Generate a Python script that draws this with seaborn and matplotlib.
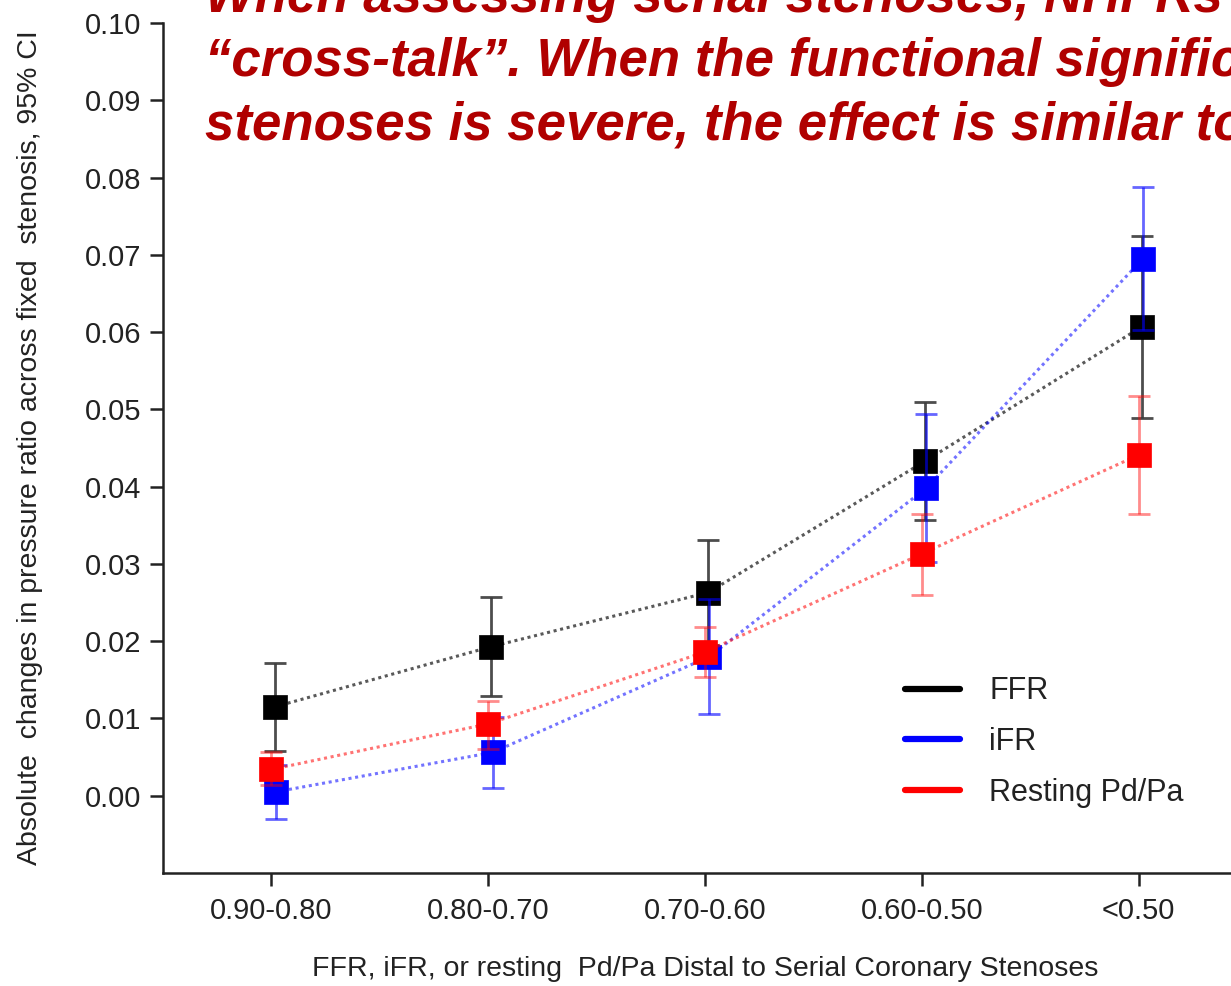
import numpy as np
import pandas as pd
import matplotlib
matplotlib.use("Agg")
import matplotlib.pyplot as plt
from matplotlib.lines import Line2D
import seaborn as sns

# Pressure-ratio bins distal to the serial stenoses
categories = ["0.90-0.80", "0.80-0.70", "0.70-0.60", "0.60-0.50", "<0.50"]

# Mean absolute change across the fixed stenosis with 95% CI bounds
ffr_mean = [0.0115, 0.0193, 0.0263, 0.0433, 0.0607]
ffr_low = [0.0058, 0.0129, 0.0195, 0.0357, 0.0489]
ffr_high = [0.0172, 0.0257, 0.0331, 0.0510, 0.0724]

ifr_mean = [0.0005, 0.0056, 0.0180, 0.0398, 0.0695]
ifr_low = [-0.0030, 0.0010, 0.0106, 0.0303, 0.0603]
ifr_high = [0.0040, 0.0102, 0.0254, 0.0494, 0.0788]

pdpa_mean = [0.0034, 0.0093, 0.0186, 0.0313, 0.0441]
pdpa_low = [0.0014, 0.0061, 0.0154, 0.0260, 0.0364]
pdpa_high = [0.0056, 0.0123, 0.0219, 0.0364, 0.0517]

series_names = ["FFR", "iFR", "Resting Pd/Pa"]

rows = []
for name, m, lo, hi in [
    ("FFR", ffr_mean, ffr_low, ffr_high),
    ("iFR", ifr_mean, ifr_low, ifr_high),
    ("Resting Pd/Pa", pdpa_mean, pdpa_low, pdpa_high),
]:
    for i, cat in enumerate(categories):
        rows.append({"series": name, "bin": cat, "idx": i,
                     "mean": m[i], "low": lo[i], "high": hi[i]})
df = pd.DataFrame(rows)

sns.set_theme(style="ticks")
plt.rcParams["font.family"] = ["Liberation Sans", "DejaVu Sans"]

W, H = 1231, 986
fig = plt.figure(figsize=(W / 100, H / 100), dpi=100)
fig.patch.set_facecolor("white")
ax = fig.add_axes([163 / W, 113 / H, 1084 / W, 850 / H])
ax.set_facecolor("white")

styles = {
    "FFR": dict(color="#000000", line_alpha=0.65, err_color="#3a3a3a", err_alpha=0.9,
                shift=0.015, z=3),
    "iFR": dict(color="#0000ff", line_alpha=0.55, err_color="#0000ff", err_alpha=0.6,
                shift=0.02, z=5),
    "Resting Pd/Pa": dict(color="#ff0000", line_alpha=0.55, err_color="#ff0000", err_alpha=0.45,
                          shift=0.0, z=7),
}

for name in series_names:
    st = styles[name]
    sub = df[df["series"] == name].copy()
    sub["x"] = sub["idx"] + st["shift"]
    # dotted connecting line
    sns.lineplot(data=sub, x="x", y="mean", ax=ax, color=st["color"],
                 linestyle=(0, (1, 1.2)), linewidth=2.2, alpha=st["line_alpha"],
                 errorbar=None, legend=False, zorder=st["z"] - 1.5, sort=True)
    # 95% CI whiskers
    ax.errorbar(sub["x"], sub["mean"],
                yerr=[sub["mean"] - sub["low"], sub["high"] - sub["mean"]],
                fmt="none", ecolor=st["err_color"], alpha=st["err_alpha"],
                elinewidth=2.0, capsize=8, capthick=2.0, zorder=st["z"] - 1)
    # square markers
    sns.scatterplot(data=sub, x="x", y="mean", ax=ax, marker="s", s=290,
                    color=st["color"], edgecolor=st["color"], linewidth=0.5,
                    legend=False, zorder=st["z"])

ax.set_xlim(-0.5, 4.5)
ax.set_ylim(-0.01, 0.10)
ax.set_xticks(range(len(categories)))
ax.set_xticklabels(categories)
ax.set_yticks(np.arange(0, 0.1001, 0.01))
ax.set_yticklabels([f"{v:.2f}" for v in np.arange(0, 0.1001, 0.01)])

for side in ["top", "right"]:
    ax.spines[side].set_visible(False)
for side in ["left", "bottom"]:
    ax.spines[side].set_linewidth(1.8)
    ax.spines[side].set_color("#222222")

ax.tick_params(axis="both", direction="out", length=9.5, width=1.8, color="#222222",
               labelsize=21, labelcolor="#222222")
ax.tick_params(axis="x", pad=8)
ax.tick_params(axis="y", pad=6)

ax.set_xlabel("FFR, iFR, or resting  Pd/Pa Distal to Serial Coronary Stenoses",
              fontsize=20.5, color="#222222", labelpad=22)
ax.set_ylabel("Absolute  changes in pressure ratio across fixed  stenosis, 95% CI",
              fontsize=20.5, color="#222222", labelpad=30)

handles = [Line2D([0], [0], color=styles[n]["color"], lw=4.5) for n in series_names]
fig.legend(handles, series_names, loc="center left",
           bbox_to_anchor=(905 / W, 1 - 742 / H), bbox_transform=fig.transFigure,
           frameon=False, fontsize=22, handlelength=1.8, handletextpad=0.95,
           labelspacing=0.68, borderpad=0, borderaxespad=0, labelcolor="#222222")

title_lines = [
    "When assessing serial stenoses, NHPRs show more",
    "\u201ccross-talk\u201d. When the functional significance of",
    "stenoses is severe, the effect is similar to FFR.",
]
for line, base in zip(title_lines, [12, 76, 140]):
    fig.text(205 / W, 1 - base / H, line, fontsize=38, fontweight="bold",
             fontstyle="italic", color="#b00000", va="baseline", ha="left")

fig.savefig("out.png", dpi=100, facecolor="white")
